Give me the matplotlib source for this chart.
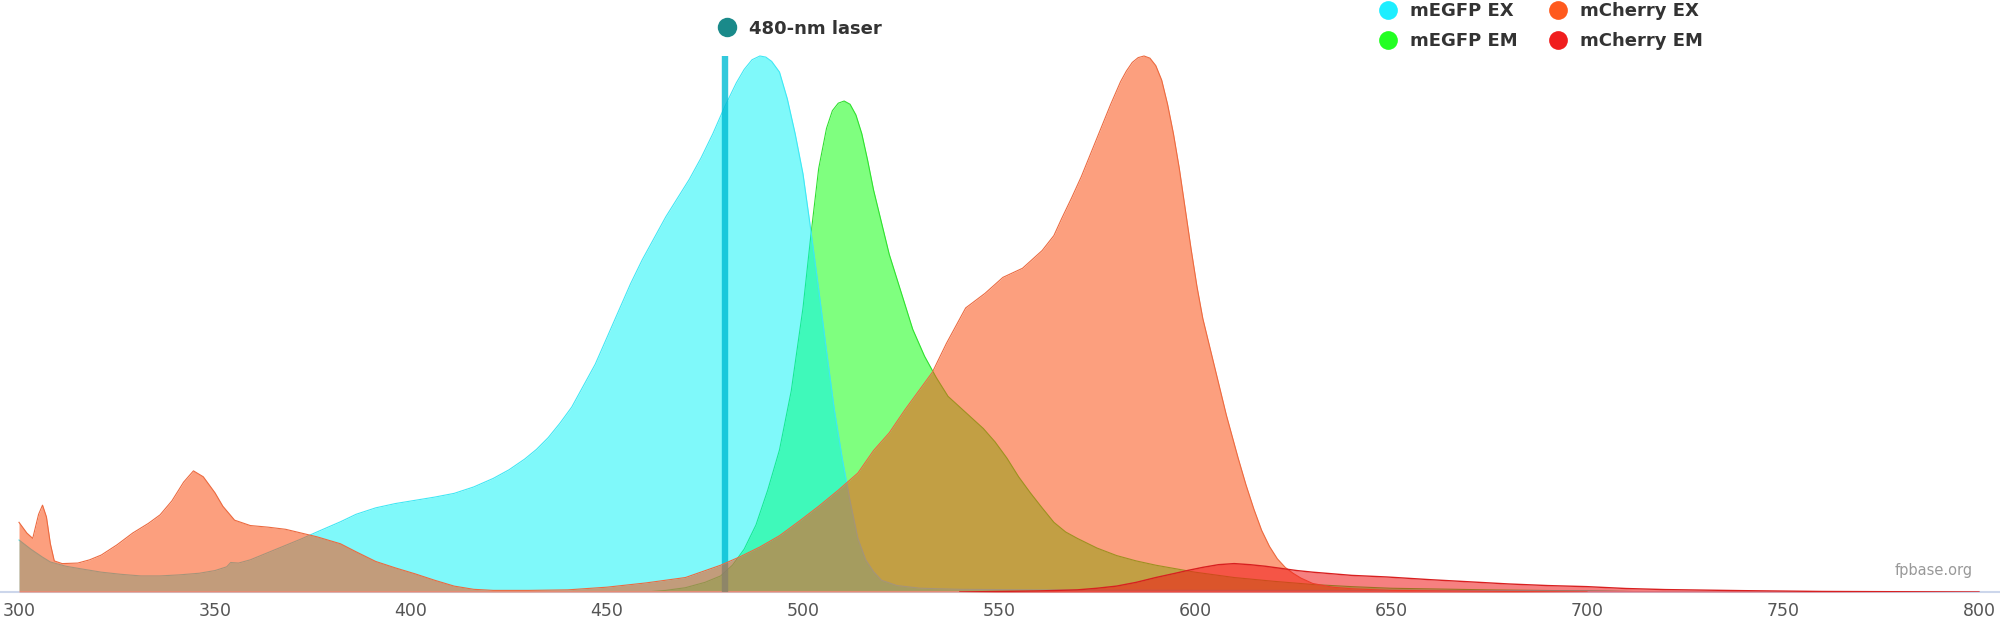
import numpy as np
import matplotlib
matplotlib.use('Agg')
import matplotlib.pyplot as plt
from matplotlib.lines import Line2D

# 光谱数据 (波长 nm, 归一化强度)
egfp_ex_wl = [300, 303, 306, 308, 312, 316, 321, 326, 331, 336, 341, 346, 350, 353, 354, 356,
              359, 363, 368, 372, 376, 382, 386, 391, 396, 401, 406, 411, 416, 421, 425, 429,
              432, 435, 438, 441, 444, 447, 450, 453, 456, 459, 462, 465, 468, 471, 474, 477,
              480, 483, 485, 487, 489, 490.5, 492, 494, 496, 498, 500, 502, 504, 506, 508, 510,
              512, 514, 516, 518, 520, 524, 530, 540, 560, 600, 650, 700, 720]
egfp_ex = [0.097, 0.080, 0.065, 0.056, 0.048, 0.043, 0.037, 0.033, 0.030, 0.030, 0.032, 0.035,
           0.040, 0.047, 0.055, 0.054, 0.060, 0.072, 0.087, 0.099, 0.112, 0.131, 0.145, 0.157,
           0.165, 0.171, 0.177, 0.184, 0.196, 0.212, 0.228, 0.248, 0.266, 0.288, 0.315, 0.345,
           0.385, 0.425, 0.475, 0.525, 0.575, 0.620, 0.660, 0.700, 0.735, 0.770, 0.810, 0.855,
           0.905, 0.950, 0.975, 0.993, 1.000, 0.998, 0.990, 0.970, 0.920, 0.855, 0.780, 0.675,
           0.565, 0.450, 0.340, 0.250, 0.170, 0.100, 0.060, 0.038, 0.022, 0.012, 0.007, 0.005,
           0.004, 0.003, 0.003, 0.002, 0.0]

egfp_em_wl = [460, 465, 470, 475, 479, 482, 485, 488, 491, 494, 497, 500, 502, 504, 506, 507.5,
              509, 510.5, 512, 513.5, 515, 516.5, 518, 520, 522, 525, 528, 531, 534, 537, 540,
              543, 546, 549, 552, 555, 558, 561, 564, 567, 570, 575, 580, 585, 590, 600, 610,
              620, 630, 640, 650, 675, 700, 720]
egfp_em = [0.0, 0.003, 0.008, 0.018, 0.030, 0.050, 0.080, 0.125, 0.190, 0.265, 0.375, 0.530,
           0.665, 0.790, 0.865, 0.898, 0.912, 0.916, 0.910, 0.890, 0.855, 0.805, 0.750, 0.690,
           0.630, 0.560, 0.490, 0.440, 0.400, 0.365, 0.345, 0.325, 0.305, 0.280, 0.250, 0.215,
           0.185, 0.157, 0.130, 0.112, 0.100, 0.082, 0.068, 0.058, 0.050, 0.037, 0.027, 0.020,
           0.014, 0.010, 0.007, 0.004, 0.002, 0.0]

mcherry_ex_wl = [300, 302, 303.5, 305, 306, 307, 308, 309, 311, 315, 318, 321, 325, 329, 333,
                 336, 339, 342, 344.5, 347, 350, 352, 355, 359, 363.5, 368, 372, 376, 382, 386,
                 391, 396, 401, 406, 411, 416, 421, 430, 440, 450, 460, 470, 479, 484, 489, 494,
                 499, 504, 509, 514, 518, 522, 526, 530, 533, 536.6, 541.5, 546.4, 551, 556,
                 561, 564, 566, 568.5, 571, 573.5, 576, 578.5, 581, 582.5, 584, 585.5, 587,
                 588.5, 590, 591.5, 593, 594.5, 596, 597.5, 599, 600.5, 602, 603.5, 605, 606.5,
                 608, 609.5, 611, 613, 615, 617, 619, 621, 623, 625, 627, 630, 635, 640, 650,
                 680, 700]
mcherry_ex = [0.130, 0.110, 0.100, 0.145, 0.162, 0.140, 0.090, 0.058, 0.053, 0.054, 0.060,
              0.069, 0.088, 0.110, 0.128, 0.144, 0.170, 0.205, 0.226, 0.215, 0.185, 0.160,
              0.134, 0.124, 0.121, 0.117, 0.110, 0.103, 0.090, 0.075, 0.057, 0.045, 0.034,
              0.022, 0.011, 0.005, 0.003, 0.003, 0.004, 0.009, 0.017, 0.027, 0.050, 0.066,
              0.084, 0.105, 0.132, 0.160, 0.190, 0.222, 0.264, 0.297, 0.340, 0.380, 0.410,
              0.464, 0.530, 0.557, 0.587, 0.604, 0.637, 0.665, 0.697, 0.735, 0.775, 0.820,
              0.865, 0.910, 0.952, 0.972, 0.988, 0.997, 1.000, 0.996, 0.982, 0.955, 0.910,
              0.855, 0.790, 0.715, 0.640, 0.570, 0.510, 0.465, 0.420, 0.375, 0.330, 0.290,
              0.250, 0.200, 0.155, 0.115, 0.085, 0.062, 0.046, 0.035, 0.026, 0.016, 0.009,
              0.006, 0.003, 0.001, 0.0]

mcherry_em_wl = [540, 550, 560, 570, 575, 580, 585, 590, 595, 598, 602, 606, 610, 614, 618,
                 622, 626, 630, 635, 640, 649, 660, 670, 680, 690, 700, 710, 720, 740, 760,
                 780, 800]
mcherry_em = [0.0, 0.001, 0.002, 0.004, 0.007, 0.011, 0.018, 0.027, 0.035, 0.040, 0.046, 0.051,
              0.053, 0.051, 0.048, 0.044, 0.040, 0.037, 0.034, 0.031, 0.028, 0.023, 0.019,
              0.015, 0.012, 0.010, 0.0065, 0.0045, 0.0025, 0.001, 0.0005, 0.0]

laser_wl = 480
x_ticks = [300, 350, 400, 450, 500, 550, 600, 650, 700, 750, 800]

# 图形
fig = plt.figure(figsize=(20, 6.19), dpi=100)
ax = fig.add_axes([0, 27 / 619, 1, 592 / 619])

c_cyan = '#00f4f6'
c_green = '#00ff00'
c_orange = '#fa5014'
c_red = '#f01818'

# 绘制顺序: EM(绿) -> EX(青) -> 激光 -> EX(橙) -> EM(红)
ax.fill_between(egfp_em_wl, egfp_em, color=c_green, alpha=0.5, lw=0, zorder=1)
ax.plot(egfp_em_wl, egfp_em, color='#30e030', lw=0.8, zorder=1.1)

ax.fill_between(egfp_ex_wl, egfp_ex, color=c_cyan, alpha=0.5, lw=0, zorder=2)
ax.plot(egfp_ex_wl, egfp_ex, color='#40e8f4', lw=0.8, zorder=2.1)

ax.vlines(laser_wl, 0, 1.0, color='#00bcd4', lw=4.6, alpha=0.8, zorder=3)

ax.fill_between(mcherry_ex_wl, mcherry_ex, color=c_orange, alpha=0.55, lw=0, zorder=4)
ax.plot(mcherry_ex_wl, mcherry_ex, color='#ec6a40', lw=0.8, zorder=4.1)

ax.fill_between(mcherry_em_wl, mcherry_em, color=c_red, alpha=0.55, lw=0, zorder=5)
ax.plot(mcherry_em_wl, mcherry_em, color='#d82020', lw=1.0, zorder=5.1)

ax.set_xlim(300 - 19 / 3.92, 800 + 21 / 3.92)
ax.set_ylim(0, 592 / 536)
ax.set_xticks(x_ticks)
ax.set_xticklabels([str(t) for t in x_ticks], fontsize=12.5, color='#555555')
ax.tick_params(axis='x', length=0, pad=7)
ax.set_yticks([])
for s in ['top', 'left', 'right']:
    ax.spines[s].set_visible(False)
ax.spines['bottom'].set_color('#ccd6eb')
ax.spines['bottom'].set_linewidth(1.5)
ax.patch.set_alpha(0)

# 图例
handles = [Line2D([], [], marker='o', ls='', ms=13.5, mec='none', mfc=c)
           for c in ['#1eeeff', '#22ff22', '#ff5a1e', '#f01e1e']]
labels = ['mEGFP EX', 'mEGFP EM', 'mCherry EX', 'mCherry EM']
leg = ax.legend(handles, labels, ncol=2, loc='upper left', frameon=False,
                bbox_to_anchor=(1379 / 2000, 1 - 2.5 / 619), bbox_transform=fig.transFigure,
                borderpad=0, borderaxespad=0, handlelength=1.0, handletextpad=0.7,
                columnspacing=1.75, labelspacing=0.63,
                prop={'weight': 'bold', 'size': 13})
for t in leg.get_texts():
    t.set_color('#333333')
ax.add_artist(leg)

laser_leg = ax.legend([Line2D([], [], marker='o', ls='', ms=14, mec='none', mfc='#1a8a8a')],
                      ['480-nm laser'], loc='upper left', frameon=False,
                      bbox_to_anchor=(718 / 2000, 1 - 19.5 / 619), bbox_transform=fig.transFigure,
                      borderpad=0, borderaxespad=0, handlelength=1.0, handletextpad=0.7,
                      prop={'weight': 'bold', 'size': 13})
laser_leg.get_texts()[0].set_color('#333333')

fig.text(1973 / 2000, 1 - 571 / 619, 'fpbase.org', ha='right', va='center',
         fontsize=10.5, color='#999999')

fig.savefig('out.png', dpi=100)
